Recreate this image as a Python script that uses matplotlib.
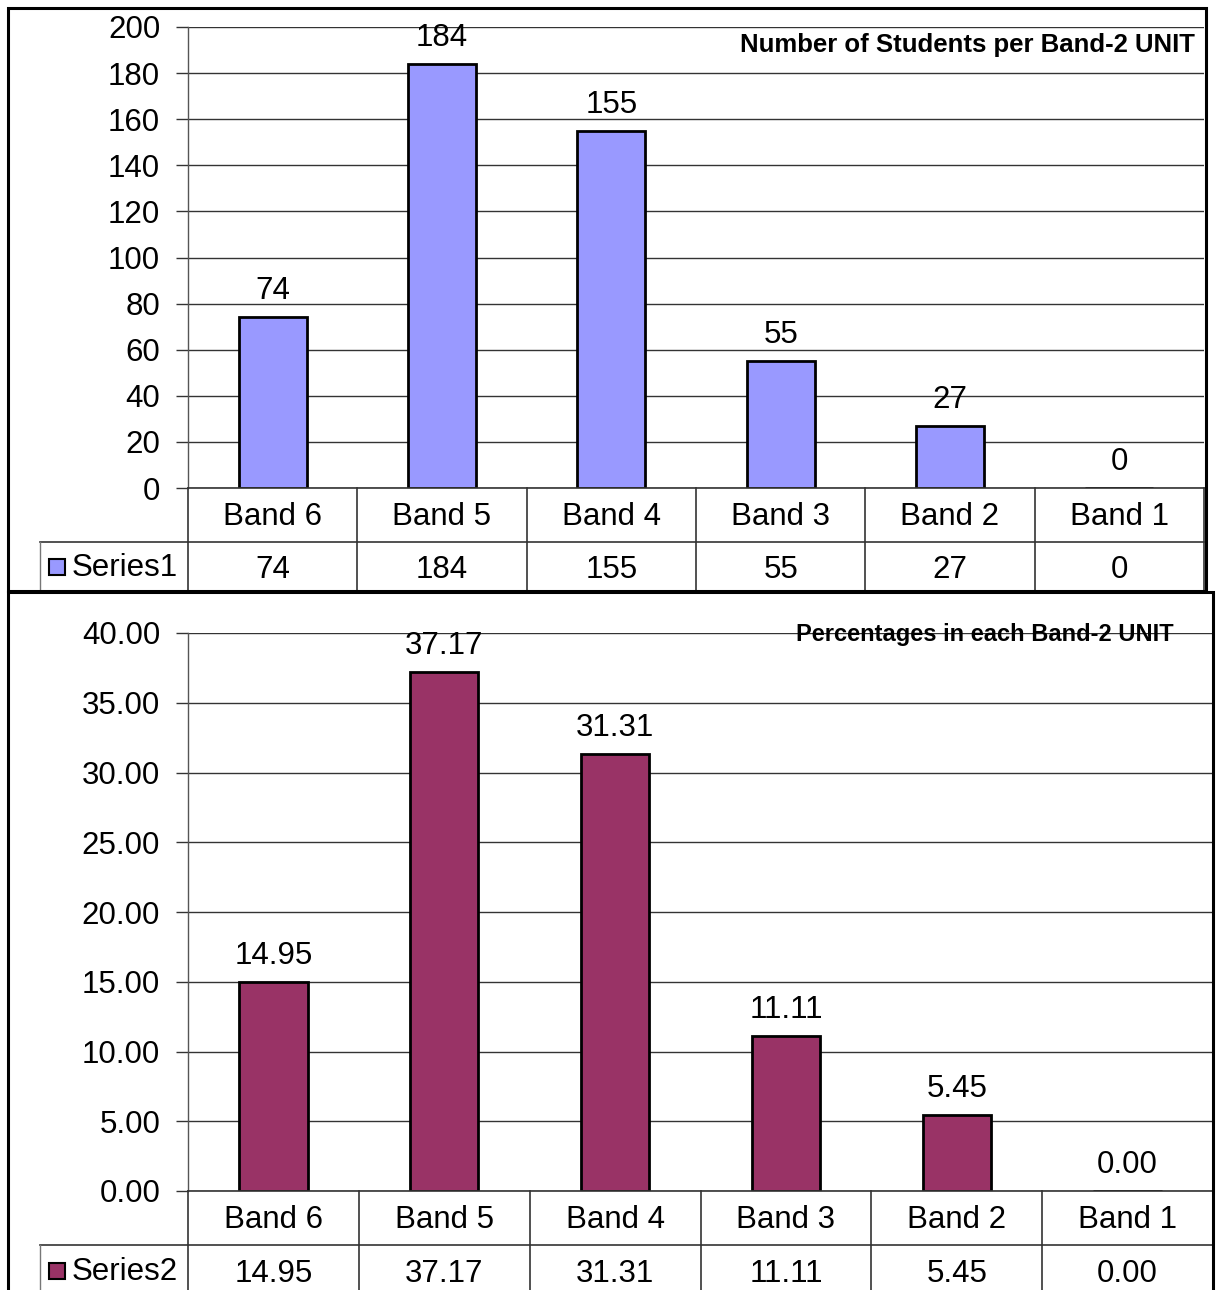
import matplotlib
matplotlib.use("Agg")
import matplotlib.pyplot as plt
from matplotlib.patches import Rectangle
from matplotlib.lines import Line2D

plt.rcParams['font.family'] = ['Liberation Sans', 'DejaVu Sans']

# data
bands = ["Band 6", "Band 5", "Band 4", "Band 3", "Band 2", "Band 1"]
students = [74, 184, 155, 55, 27, 0]
percentages = [14.95, 37.17, 31.31, 11.11, 5.45, 0.00]

W, H = 1217, 1290
fig = plt.figure(figsize=(W / 100, H / 100), dpi=100)

FS = 22.5
GRID = "#333333"


def px_rect(x0, y0, x1, y1):
    # pixel box (top-left origin) -> figure fraction rect
    return [x0 / W, 1 - y1 / H, (x1 - x0) / W, (y1 - y0) / H]


def fig_line(x0, y0, x1, y1, lw=1.0, color="black"):
    fig.add_artist(Line2D([x0 / W, x1 / W], [1 - y0 / H, 1 - y1 / H],
                          transform=fig.transFigure, lw=lw, color=color))


def label(v, fmt):
    return str(v) if fmt is None else fmt.format(v)


def draw_chart(box, plot, values, ymax, ystep, fmt, color, title, title_xy, title_fs,
               series_name):
    bx0, by0, bx1, by1 = box
    px0, py0, px1, py1, row1, row2 = plot

    # outer chart border
    fig.add_artist(Rectangle((bx0 / W, 1 - by1 / H), (bx1 - bx0) / W, (by1 - by0) / H,
                             transform=fig.transFigure, fill=False, lw=2.2,
                             edgecolor="black", zorder=10))

    ax = fig.add_axes(px_rect(px0, py0, px1, py1))
    x = [i + 0.5 for i in range(len(values))]
    ax.bar(x, values, width=0.4, color=color, edgecolor="black", linewidth=2, zorder=3)
    ax.set_xlim(0, len(values))
    ax.set_ylim(0, ymax)
    ticks = [ystep * k for k in range(int(round(ymax / ystep)) + 1)]
    ax.set_yticks(ticks)
    ax.set_yticklabels([label(t, fmt) if fmt else str(int(t)) for t in ticks], fontsize=FS)
    ax.tick_params(axis='y', length=9, width=1, color=GRID, pad=11)
    ax.set_xticks([])
    ax.yaxis.grid(True, color=GRID, lw=1)
    ax.set_axisbelow(True)
    for s in ["top", "right", "bottom"]:
        ax.spines[s].set_visible(False)
    ax.spines["left"].set_color("#555555")
    ax.spines["left"].set_linewidth(1)

    for xi, v in zip(x, values):
        ax.annotate(label(v, fmt), (xi, v), xytext=(0, 8), textcoords="offset points",
                    ha="center", va="bottom", fontsize=FS)

    fig.text(title_xy[0] / W, 1 - title_xy[1] / H, title, fontsize=title_fs,
             fontweight="bold", ha="right", va="center")

    # data table
    n = len(values)
    cw = (px1 - px0) / n
    fig_line(px0, py1, px1, py1, lw=1.2, color=GRID)
    fig_line(40, row1, px1, row1, lw=1.2, color=GRID)
    fig_line(40, row1, 40, row2, lw=1, color="#777777")
    for i in range(n + 1):
        xv = px0 + i * cw
        fig_line(xv, py1, xv, row2, lw=1.2, color=GRID)
    for i, (b, v) in enumerate(zip(bands, values)):
        cx = px0 + (i + 0.5) * cw
        fig.text(cx / W, 1 - ((py1 + row1) / 2 + 2) / H, b, fontsize=FS,
                 ha="center", va="center")
        fig.text(cx / W, 1 - ((row1 + row2) / 2 + 3) / H, label(v, fmt), fontsize=FS,
                 ha="center", va="center")
    # legend key
    ky = (row1 + row2) / 2
    fig.add_artist(Rectangle((49 / W, 1 - (ky + 8) / H), 16 / W, 16 / H,
                             transform=fig.transFigure, facecolor=color,
                             edgecolor="black", lw=1.5))
    fig.text(72 / W, 1 - (ky + 1) / H, series_name, fontsize=FS,
             ha="left", va="center")
    return ax


draw_chart((8, 8, 1206, 591), (188, 27, 1204, 488, 542, 591),
           students, 200, 20, None, "#9999FF",
           "Number of Students per Band-2 UNIT", (1195, 45), 18.5, "Series1")

draw_chart((8, 592, 1213, 1296), (188, 633, 1213, 1191, 1245, 1296),
           percentages, 40, 5, "{:.2f}", "#993366",
           "Percentages in each Band-2 UNIT", (1174, 634), 17, "Series2")

fig.savefig("out.png", dpi=100)
